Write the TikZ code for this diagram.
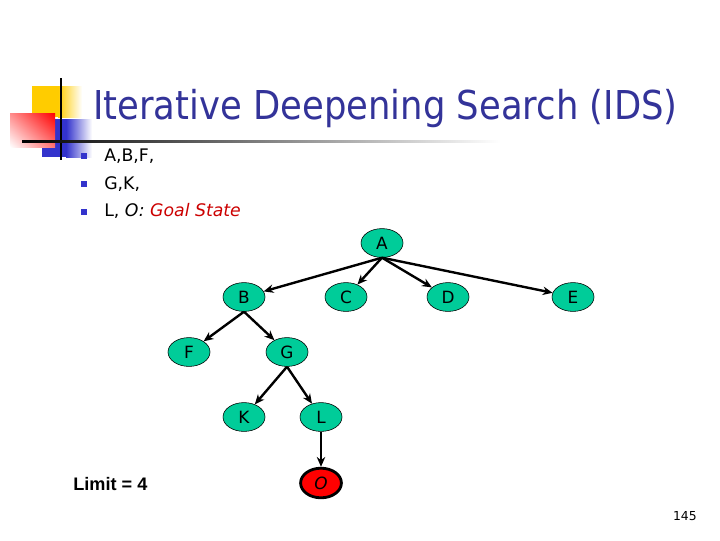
\documentclass[tikz,border=0pt]{standalone}
\usepackage{fontspec}
\setmainfont{DejaVu Sans}
\newfontfamily\arialfont{Liberation Sans}
\usepackage{graphicx}
\usetikzlibrary{
    shapes.geometric,
    shadings,
    arrows.meta,
    positioning
}

\definecolor{titleblue}{RGB}{51,51,153}
\definecolor{bulletblue}{RGB}{51,51,204}
\definecolor{nodegreen}{RGB}{0,204,153}
\definecolor{decoyellow}{RGB}{255,204,0}
\definecolor{goaltext}{RGB}{204,0,0}

\begin{document}
\begin{tikzpicture}[
    x=0.025cm, y=-0.025cm,
    state/.style={ellipse, minimum width=1.05cm, minimum height=0.72cm, inner sep=0pt,
                  draw=black, fill=nodegreen, font=\fontsize{12}{14}\selectfont},
    goal/.style={ellipse, minimum width=1.02cm, minimum height=0.74cm, inner sep=0pt,
                 draw=black, line width=2pt, fill=red, font=\fontsize{12}{14}\selectfont\itshape},
    arrow/.style={-{Stealth[length=7pt,width=6pt]}, line width=1.7pt},
    bulletbox/.style={rectangle, fill=bulletblue, minimum size=0.14cm, inner sep=0pt},
    itemtext/.style={anchor=base west, inner sep=0pt, font=\fontsize{12.3}{15}\selectfont}
]

    \useasboundingbox (0,0) rectangle (720,540);
    \fill[white] (0,0) rectangle (720,540);

    % slide decoration
    \fill[decoyellow] (32,86) rectangle (58,117);
    \shade[left color=decoyellow, right color=white] (58,86) rectangle (82,117);
    \fill[bulletblue] (42,119) rectangle (66,157);
    \shade[left color=bulletblue, right color=white] (66,119) rectangle (92,157);
    \shade[upper right=red, upper left=red!45, lower right=red!55, lower left=white]
        (10,113) rectangle (55,147);
    \draw[line width=1.5pt] (61,78) -- (61,160);
    \shade[left color=black, middle color=black!75, right color=white] (22,140) rectangle (500,142.5);

    % title and bullets
    \node (title) [anchor=base west, inner sep=0pt, text=titleblue,
                   font=\fontsize{28.3}{34}\selectfont] at (93,119)
        {\scalebox{0.89}[1]{Iterative Deepening Search (IDS)}};

    \node (b1) [bulletbox] at (84,156) {};
    \node (t1) [itemtext] at (104,161) {A,B,F,};
    \node (b2) [bulletbox] at (84,184) {};
    \node (t2) [itemtext] at (104,189) {G,K,};
    \node (b3) [bulletbox] at (84,212) {};
    \node (t3) [itemtext] at (104,216) {L, \textit{O:} \textcolor{goaltext}{\textit{Goal State}}};

    % search tree
    \node (A) [state] at (382,243) {A};
    \node (B) [state] at (244,297) {B};
    \node (C) [state] at (346,297) {C};
    \node (D) [state] at (448,297) {D};
    \node (E) [state] at (573,297) {E};
    \node (F) [state] at (189,352) {F};
    \node (G) [state] at (287,352) {G};
    \node (K) [state] at (244,417) {K};
    \node (L) [state] at (321,417) {L};
    \node (O) [goal] at (321,483) {O};

    \draw [arrow] (A.south) -- (B);
    \draw [arrow] (A.south) -- (C);
    \draw [arrow] (A.south) -- (D);
    \draw [arrow] (A.south) -- (E);
    \draw [arrow] (B.south) -- (F);
    \draw [arrow] (B.south) -- (G);
    \draw [arrow] (G.south) -- (K);
    \draw [arrow] (G.south) -- (L);
    \draw [arrow] (L.south) -- (O);

    \node (limit) [anchor=base west, inner sep=0pt,
                   font=\arialfont\bfseries\fontsize{12.9}{15}\selectfont] at (73,490.7) {Limit = 4};
    \node (page) [anchor=base east, inner sep=0pt, font=\fontsize{8.8}{10}\selectfont] at (697,520) {145};

\end{tikzpicture}
\end{document}
